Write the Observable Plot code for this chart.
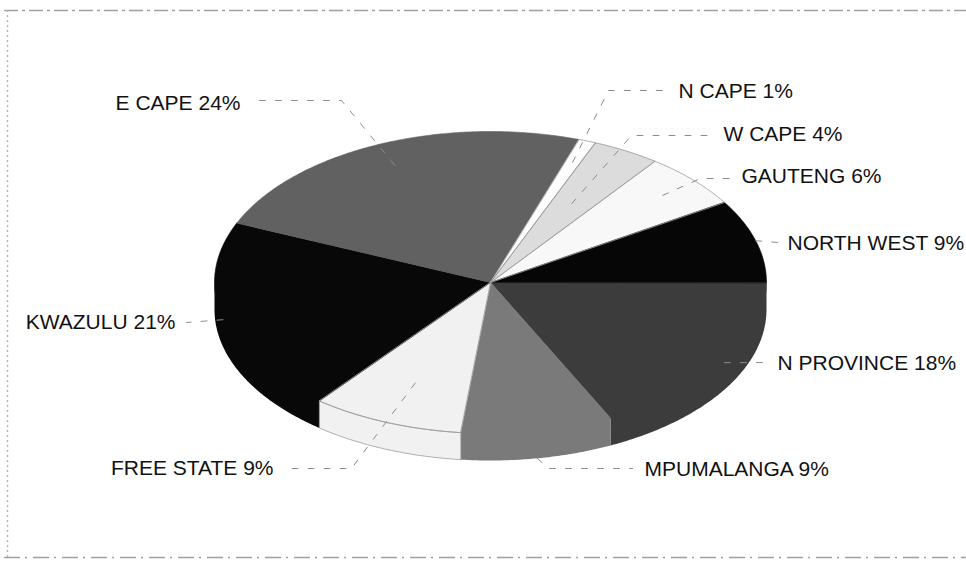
<!DOCTYPE html>
<html>
<head>
<meta charset="utf-8">
<script src="https://cdn.jsdelivr.net/npm/d3@7"></script>
<script src="https://cdn.jsdelivr.net/npm/@observablehq/plot@0.6"></script>
<style>
  html, body { margin: 0; padding: 0; background: #fff; }
  #chart svg { display: block; }
</style>
</head>
<body>
<div id="chart"></div>
<script>
// Provinces in drawing order, clockwise from the 3 o'clock position
const provinces = ["N PROVINCE", "MPUMALANGA", "FREE STATE", "KWAZULU", "E CAPE", "N CAPE", "W CAPE", "GAUTENG", "NORTH WEST"];
const shares    = [18, 9, 9, 21, 24, 1, 4, 6, 9];
const shades    = ["#3c3c3c", "#7a7a7a", "#f1f1f1", "#080808", "#616161", "#fdfdfd", "#dcdcdc", "#f8f8f8", "#060606"];

// Canvas and pie geometry (pixels)
const W = 966, H = 563;
const CX = 490, CY = 282, RX = 276, RY = 151, DEPTH = 27;

// Label placement: text anchor, leader elbow and leader end (pixels), start depth of leader inside slice
const labelLayout = {
  "N PROVINCE": {tx: 777, ty: 363, anchor: "start", r: 1.0,  elbow: null,       end: [769, 362]},
  "MPUMALANGA": {tx: 644, ty: 469, anchor: "start", r: 1.0,  drop: true, elbow: [548, 468], end: [632, 468]},
  "FREE STATE": {tx: 273, ty: 468, anchor: "end",   r: 0.72, elbow: [351, 468], end: [284, 468]},
  "KWAZULU":    {tx: 175, ty: 322, anchor: "end",   r: 1.0,  elbow: null,       end: [186, 322]},
  "E CAPE":     {tx: 240, ty: 103, anchor: "end",   r: 0.85, elbow: [341, 100], end: [252, 100]},
  "N CAPE":     {tx: 678, ty: 91,  anchor: "start", r: 0.85, elbow: [608, 90],  end: [668, 90]},
  "W CAPE":     {tx: 723, ty: 134, anchor: "start", r: 0.6,  elbow: [631, 135], end: [712, 135]},
  "GAUTENG":    {tx: 741, ty: 176, anchor: "start", r: 0.85, elbow: [700, 178], end: [729, 178]},
  "NORTH WEST": {tx: 787, ty: 243, anchor: "start", r: 1.0,  elbow: null,       end: [778, 242]}
};
// Pale slices get a thin grey outline so their edges stay visible on white
const outlined = ["FREE STATE", "N CAPE", "W CAPE", "GAUTENG"];

// pixel -> pie units (the scales map pie units back to pixels)
const ux = px => (px - CX) / RX;
const uy = py => (py - CY) / RY;
const D = DEPTH / RY;
const TUCK = 3 / RY; // wall's upper edge hides a few pixels under the top face

const data = provinces.map((name, i) => ({name, share: shares[i]}));
const arcs = d3.pie().sort(null).value(d => d.share)
  .startAngle(Math.PI / 2).endAngle(Math.PI / 2 + 2 * Math.PI)(data);

// d3 angle (clockwise from 12 o'clock) -> point on the unit ellipse, y pointing down
const pt = a => [Math.sin(a), -Math.cos(a)];
const arcPoints = (a0, a1) => {
  const n = Math.max(2, Math.ceil((a1 - a0) / (Math.PI / 360)));
  return d3.range(n + 1).map(k => pt(a0 + (a1 - a0) * k / n));
};
const frontRange = arc => {
  const lo = Math.max(arc.startAngle, Math.PI / 2);
  const hi = Math.min(arc.endAngle, 3 * Math.PI / 2);
  return hi > lo ? [lo, hi] : null;
};

// Top faces
const tops = arcs.flatMap(arc => {
  const ring = [[0, 0], ...arcPoints(arc.startAngle, arc.endAngle)];
  return ring.map(([x, y]) => ({name: arc.data.name, x, y}));
});

// Front walls (only the part facing the viewer)
const sides = arcs.flatMap(arc => {
  const r = frontRange(arc);
  if (!r) return [];
  const top = arcPoints(...r);
  const upper = top.map(([x, y]) => [x, y - TUCK]);
  const lower = top.slice().reverse().map(([x, y]) => [x, y + D]);
  return [...upper, ...lower].map(([x, y]) => ({name: arc.data.name, x, y}));
});
const wallEdges = arcs.flatMap(arc => {
  const r = frontRange(arc);
  if (!r) return [];
  const top = arcPoints(...r);
  const ring = [...top, ...top.slice().reverse().map(([x, y]) => [x, y + D])];
  return ring.map(([x, y]) => ({name: arc.data.name, x, y}));
});

// Leader lines and labels
const leaders = [];
const labels = [];
arcs.forEach(arc => {
  const name = arc.data.name;
  const L = labelLayout[name];
  const mid = (arc.startAngle + arc.endAngle) / 2;
  const [mx, my] = pt(mid);
  const start = [mx * L.r, my * L.r + (L.drop ? D : 0)];
  const path = [start];
  if (L.elbow) path.push([ux(L.elbow[0]), uy(L.elbow[1])]);
  path.push([ux(L.end[0]), uy(L.end[1])]);
  path.forEach(([x, y]) => leaders.push({name, x, y}));
  labels.push({name, text: `${name} ${arc.data.share}%`, x: ux(L.tx), y: uy(L.ty), anchor: L.anchor});
});

const font = "'Liberation Sans', Arial, Helvetica, sans-serif";

const chart = Plot.plot({
  width: W,
  height: H,
  margin: 0,
  style: {background: "#fff", overflow: "visible"},
  x: {domain: [ux(0), ux(W)], range: [0, W], axis: null},
  y: {domain: [uy(0), uy(H)], range: [0, H], axis: null},
  color: {domain: provinces, range: shades, type: "ordinal"},
  marks: [
    // frame of the figure
    Plot.ruleY([uy(10)], {x1: ux(4), x2: ux(W), stroke: "#a0a0a0", strokeWidth: 1.6, strokeDasharray: "14 4 3 4"}),
    Plot.ruleY([uy(557)], {x1: ux(4), x2: ux(W), stroke: "#a0a0a0", strokeWidth: 1.6, strokeDasharray: "16 5 2 6"}),
    Plot.ruleX([ux(7)], {y1: uy(10), y2: uy(557), stroke: "#b4b4b4", strokeWidth: 1.4, strokeDasharray: "2 3"}),
    // pie walls, then top faces
    Plot.line(sides, {x: "x", y: "y", z: "name", fill: "name", curve: "linear-closed"}),
    Plot.line(tops, {x: "x", y: "y", z: "name", fill: "name", stroke: "name", strokeWidth: 0.6, curve: "linear-closed"}),
    Plot.line(wallEdges.filter(d => outlined.includes(d.name)), {x: "x", y: "y", z: "name", stroke: "#9a9a9a", strokeWidth: 0.8, curve: "linear-closed"}),
    Plot.line(tops.filter(d => outlined.includes(d.name)), {x: "x", y: "y", z: "name", stroke: "#9a9a9a", strokeWidth: 0.8, curve: "linear-closed"}),
    // leaders
    Plot.line(leaders, {x: "x", y: "y", z: "name", stroke: "#8c8c8c", strokeWidth: 1, strokeDasharray: "6 10"}),
    // labels
    Plot.text(labels.filter(d => d.anchor === "start"), {x: "x", y: "y", text: "text", textAnchor: "start", fontSize: 21, fontFamily: font, fill: "#111"}),
    Plot.text(labels.filter(d => d.anchor === "end"), {x: "x", y: "y", text: "text", textAnchor: "end", fontSize: 21, fontFamily: font, fill: "#111"})
  ]
});

document.getElementById("chart").appendChild(chart);
</script>
</body>
</html>
